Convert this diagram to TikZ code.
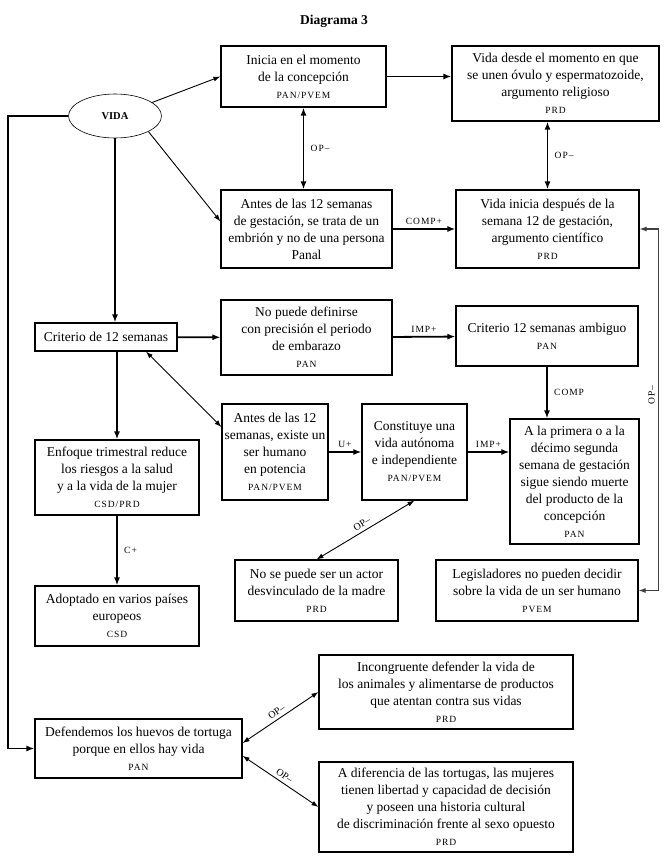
\documentclass[tikz,border=0pt]{standalone}
\usepackage{fontspec}
\setmainfont{Liberation Serif}
\newfontfamily\lblfont[LetterSpace=10]{Liberation Serif}
\usetikzlibrary{arrows.meta,shapes.geometric}
\newcommand{\pty}[1]{{\lblfont\fontsize{9.5}{11}\selectfont #1}}

\begin{document}
\begin{tikzpicture}[x=1pt, y=-1pt, >={Latex[length=8pt,width=6pt]}]
\tikzstyle{box_style} = [rectangle, draw=black, line width=1.1pt, align=center, inner sep=2pt, font=\fontsize{13.5}{17}\selectfont]
\tikzstyle{ell_style} = [ellipse, draw=black, line width=0.6pt, inner sep=0pt, minimum width=93pt, minimum height=44pt, font=\bfseries\fontsize{10.5}{12}\selectfont]
\tikzstyle{edge_style} = [draw=black, line width=1.8pt, ->, font=\lblfont\fontsize{9.5}{11}\selectfont]
\tikzstyle{link_style} = [draw=black, line width=0.9pt, {Latex[length=7pt,width=5pt]}-{Latex[length=7pt,width=5pt]}, font=\fontsize{10}{12}\selectfont]
\tikzstyle{side_style} = [draw=black!75, line width=1.1pt, {Latex[length=7pt,width=5pt]}-{Latex[length=7pt,width=5pt]}, font=\lblfont\fontsize{9.5}{11}\selectfont]

\useasboundingbox (0,0) rectangle (669,865);

\node[font=\bfseries\fontsize{13.5}{16}\selectfont] (title) at (334,21) {Diagrama 3};

\node[ell_style] (vida) at (115,116) {VIDA};

\node[box_style, minimum width=165pt, minimum height=61pt] (conc) at (303.5,76.5) {Inicia en el momento\\de la concepción\\\pty{PAN/PVEM}};
\node[box_style, minimum width=207pt, minimum height=75pt] (relig) at (555.5,83.5) {Vida desde el momento en que\\se unen óvulo y espermatozoide,\\argumento religioso\\\pty{PRD}};
\node[box_style, minimum width=171pt, minimum height=78pt] (embr) at (306.5,229) {Antes de las 12 semanas\\de gestación, se trata de un\\embrión y no de una persona\\Panal};
\node[box_style, minimum width=183pt, minimum height=78pt] (cient) at (547.5,229) {Vida inicia después de la\\semana 12 de gestación,\\argumento científico\\\pty{PRD}};

\node[box_style, minimum width=142pt, minimum height=28pt] (crit) at (106,337) {Criterio de 12 semanas};
\node[box_style, minimum width=171pt, minimum height=75pt] (prec) at (306.5,337.5) {No puede definirse\\con precisión el periodo\\de embarazo\\\pty{PAN}};
\node[box_style, minimum width=182pt, minimum height=60pt] (ambig) at (547,336) {Criterio 12 semanas ambiguo\\\pty{PAN}};

\node[box_style, minimum width=106pt, minimum height=96pt] (potn) at (275,452) {Antes de las 12\\semanas, existe un\\ser humano\\en potencia\\\pty{PAN/PVEM}};
\node[box_style, minimum width=105pt, minimum height=96pt] (auton) at (414.5,452) {Constituye una\\vida autónoma\\e independiente\\\pty{PAN/PVEM}};
\node[box_style, minimum width=129pt, minimum height=125pt] (muerte) at (574.5,481.5) {A la primera o a la\\décimo segunda\\semana de gestación\\sigue siendo muerte\\del producto de la\\concepción\\\pty{PAN}};
\node[box_style, minimum width=164pt, minimum height=75pt] (trim) at (117,477.5) {Enfoque trimestral reduce\\los riesgos a la salud\\y a la vida de la mujer\\\pty{CSD/PRD}};

\node[box_style, minimum width=164pt, minimum height=60pt] (europa) at (117,616) {Adoptado en varios países\\europeos\\\pty{CSD}};
\node[box_style, minimum width=163pt, minimum height=61pt] (madre) at (316.5,590.5) {No se puede ser un actor\\desvinculado de la madre\\\pty{PRD}};
\node[box_style, minimum width=202pt, minimum height=61pt] (legis) at (537,590.5) {Legisladores no pueden decidir\\sobre la vida de un ser humano\\\pty{PVEM}};

\node[box_style, minimum width=254pt, minimum height=74pt] (incong) at (446,692) {Incongruente defender la vida de\\los animales y alimentarse de productos\\que atentan contra sus vidas\\\pty{PRD}};
\node[box_style, minimum width=207pt, minimum height=59pt] (tortuga) at (138.5,748.5) {Defendemos los huevos de tortuga\\porque en ellos hay vida\\\pty{PAN}};
\node[box_style, minimum width=254pt, minimum height=90pt] (mujer) at (446,807) {A diferencia de las tortugas, las mujeres\\tienen libertad y capacidad de decisión\\y poseen una historia cultural\\de discriminación frente al sexo opuesto\\\pty{PRD}};

% from VIDA
\draw[edge_style, line width=0.9pt, -{Latex[length=7pt,width=5pt]}] (vida.20) -- (conc.west);
\draw[edge_style, line width=0.9pt, -{Latex[length=7pt,width=5pt]}] (vida.-25) -- (embr.175);
\draw[edge_style] (vida.south) -- (vida.south |- crit.north);
\draw[edge_style] (vida.west) -- ++(-60,0) |- (tortuga.west);

% top rows
\draw[edge_style] (conc.east) -- (conc.east -| relig.west);
\draw[edge_style, <->] (conc.south) -- node[right, xshift=3pt]{OP–} (conc.south |- embr.north);
\draw[edge_style, <->] (cient.north |- relig.south) -- node[right, xshift=3pt]{OP–} (cient.north);
\draw[edge_style] (embr) -- node[above]{COMP+} (cient);

% middle rows
\draw[edge_style] (crit) -- (prec);
\draw[edge_style] (prec) -- node[above]{IMP+} (ambig);
\draw[edge_style] (ambig.south) -- node[right, xshift=3pt]{COMP} (ambig.south |- muerte.north);
\draw[link_style] (crit.-20) -- (potn.155);
\draw[edge_style] (potn) -- node[above]{U+} (auton);
\draw[edge_style] (auton.east) -- node[above]{IMP+} (auton.east -| muerte.west);
\draw[edge_style] (trim.north |- crit.south) -- (trim.north);
\draw[edge_style] (trim) -- node[right, xshift=3pt]{C+} (europa);
\draw[link_style] (auton.south) -- node[above, sloped]{OP–} (madre.north);
\draw[side_style] (legis.east) -- ++(20,0) |- node[above, sloped, pos=0.27]{OP–} (cient.east);

% turtles
\draw[link_style] (tortuga.3) -- node[above, sloped]{OP–} (incong.west);
\draw[link_style] (tortuga.-4) -- node[above, sloped]{OP–} (mujer.west);
\end{tikzpicture}
\end{document}
